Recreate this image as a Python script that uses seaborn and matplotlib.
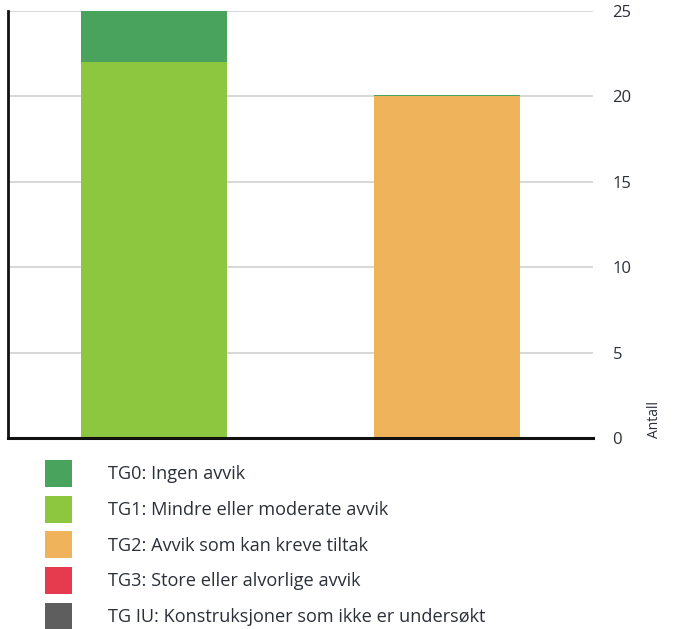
import matplotlib
matplotlib.use("Agg")
import matplotlib.pyplot as plt
from matplotlib.patches import Patch
import seaborn as sns
import numpy as np
import pandas as pd

categories = ["Bygning 1", "Bygning 2"]
series_names = ["TG0: Ingen avvik", "TG1: Mindre eller moderate avvik",
                "TG2: Avvik som kan kreve tiltak", "TG3: Store eller alvorlige avvik",
                "TG IU: Konstruksjoner som ikke er undersøkt"]
tg0 = [3, 0.1]
tg1 = [22, 0]
tg2 = [0, 20]
tg3 = [0, 0]
tgiu = [0, 0]
colors = ["#4aa35c", "#8dc63f", "#efb45b", "#e63a4f", "#5e5e5e"]
yticks = [0, 5, 10, 15, 20, 25]

sns.set_theme(style="white")
plt.rcParams["font.family"] = ["Open Sans", "DejaVu Sans"]

DPI = 100
fig = plt.figure(figsize=(6.74, 6.29), dpi=DPI)
ax = fig.add_axes([8/674, 1 - 438/629, (593-8)/674, (438-11)/629])

values = [tg0, tg1, tg2, tg3, tgiu]
# stack from bottom: TG IU, TG3, TG2, TG1, TG0
order = [4, 3, 2, 1, 0]
bottom = np.zeros(len(categories))
for i in order:
    df = pd.DataFrame({"cat": categories, "val": values[i]})
    sns.barplot(data=df, x="cat", y="val", ax=ax, color=colors[i], width=0.5,
                bottom=bottom, saturation=1, linewidth=0, zorder=3)
    bottom = bottom + np.array(values[i])

ax.set_xlim(-0.5, 1.5)
ax.set_ylim(0, 25)
ax.set_yticks(yticks)
ax.yaxis.tick_right()
ax.yaxis.set_label_position("right")
ax.tick_params(axis="y", length=0, pad=14, labelsize=12, labelcolor="#2b2f38")
ax.set_xticks([])
ax.set_xlabel("")
ax.set_ylabel("Antall", fontsize=10, color="#2b2f38")
ax.yaxis.set_label_coords((662-8)/585, 0.0, transform=ax.transAxes)
ax.yaxis.label.set_verticalalignment("bottom")
ax.yaxis.label.set_horizontalalignment("left")
ax.yaxis.grid(True, color="#d4d4d4", linewidth=1.3, zorder=0)
ax.set_axisbelow(True)
for s in ["top", "right"]:
    ax.spines[s].set_visible(False)
ax.spines["left"].set_color("#111111")
ax.spines["left"].set_linewidth(2)
ax.spines["bottom"].set_color("#111111")
ax.spines["bottom"].set_linewidth(2.2)
ax.spines["bottom"].set_zorder(5)

# fit legend font so longest label spans ~377 px like the reference
renderer = fig.canvas.get_renderer()
probe = fig.text(0, 0, series_names[-1], fontsize=12)
w = probe.get_window_extent(renderer).width
probe.remove()
fs_pt = 12 * 377 / w
fs_px = fs_pt * DPI / 72
patch_px = 27
pitch_px = 35.7

handles = [Patch(facecolor=c, edgecolor="none") for c in colors]
hh = (patch_px / fs_px - 0.245) / 0.65
leg = fig.legend(handles, series_names, loc="upper left",
                 bbox_to_anchor=(45/674, 1 - 460/629), frameon=False,
                 fontsize=fs_pt, handlelength=patch_px/fs_px, handleheight=hh,
                 handletextpad=36/fs_px, labelspacing=(pitch_px - patch_px)/fs_px,
                 borderaxespad=0, borderpad=0)
for t in leg.get_texts():
    t.set_color("#2b2f38")

fig.savefig("out.png", dpi=DPI)
